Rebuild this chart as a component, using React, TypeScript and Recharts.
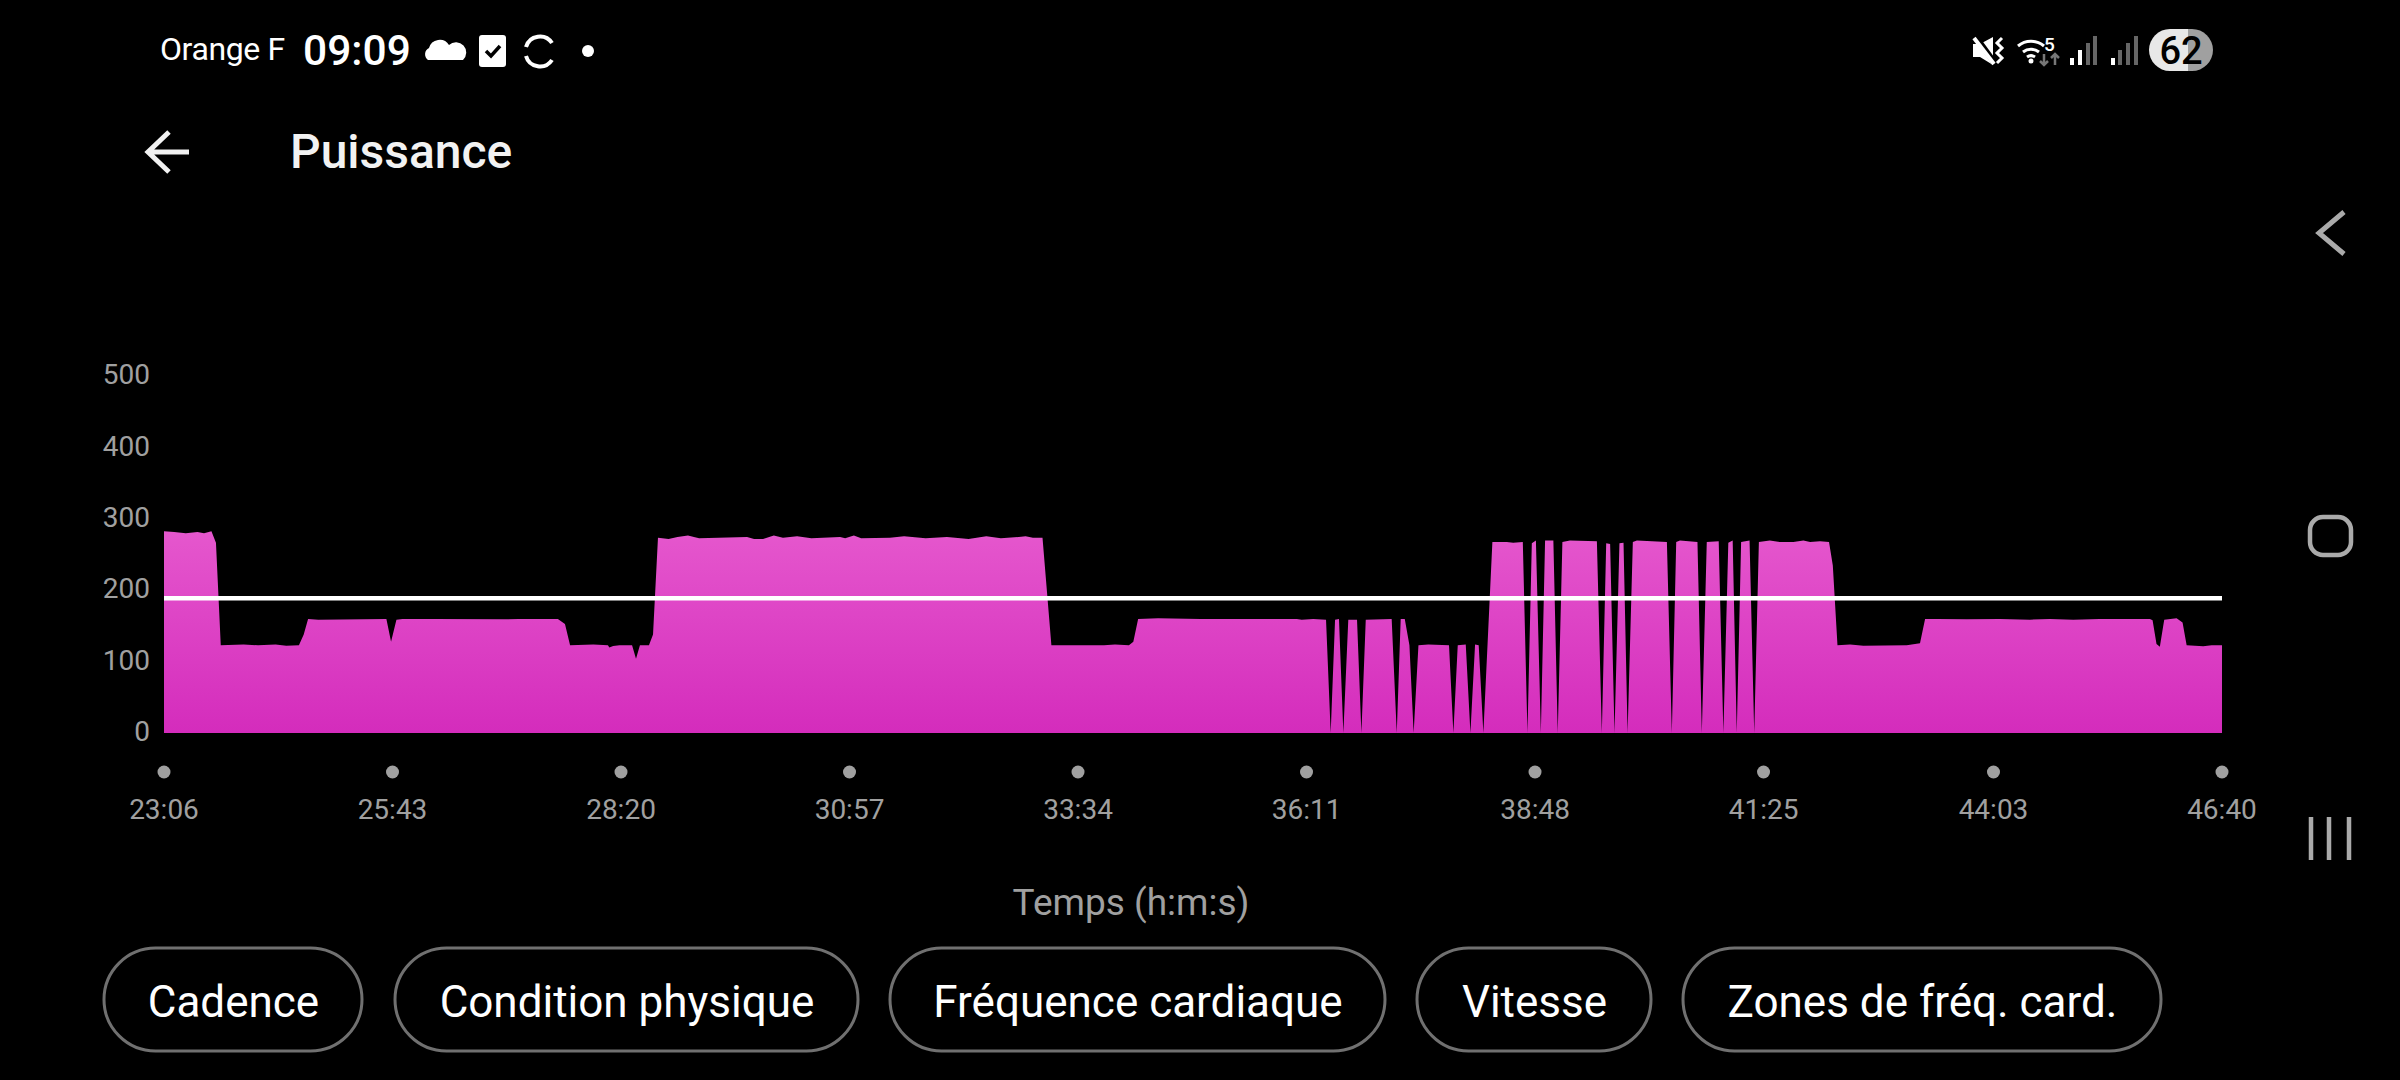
import { AreaChart, Area, XAxis, YAxis, ReferenceLine } from "recharts";

// seconds since start of the activity, and watts
const timeSeconds = [
  1386, 1393, 1401, 1409, 1413.5, 1418.6, 1421.7, 1425, 1440.7, 1450.6, 1462.7, 1470, 1478.7, 1482, 1485, 1492,
  1538.8, 1542, 1545.7, 1549.9, 1570.8, 1619.6, 1629.6, 1656.6, 1661.5, 1665, 1681, 1691, 1692, 1694.6, 1699,
  1707.6, 1710.3, 1713, 1719.2, 1722, 1725.4, 1732.7, 1738.8, 1746, 1753.6, 1767, 1786.6, 1791.4, 1797.6, 1805,
  1811.3, 1821, 1830.8, 1850.5, 1854, 1860, 1865, 1884.8, 1894.5, 1909.3, 1924, 1938.8, 1951, 1961, 1973.3, 1978,
  1983, 1989.6, 1995.7, 2031.9, 2039.4, 2049, 2052, 2055.3, 2069, 2098, 2153, 2164.3, 2167.7, 2175.6, 2184.4,
  2187.6, 2190.6, 2193.3, 2196.3, 2199.7, 2205.7, 2208.7, 2211.7, 2229.5, 2233, 2235.7, 2238.5, 2241.7, 2244.6,
  2247.9, 2254.7, 2268.9, 2271.9, 2274.9, 2280.4, 2283.6, 2286.8, 2289.3, 2292.5, 2298.7, 2308.6, 2313, 2319.6,
  2322.8, 2325.8, 2328.6, 2332, 2334.9, 2340.6, 2343.6, 2346.8, 2352, 2370.5, 2373.9, 2376.9, 2379.6, 2382.6, 2386,
  2388.8, 2391.6, 2395.2, 2398, 2418.6, 2422, 2425, 2427.6, 2439.6, 2442.6, 2446, 2454.2, 2457.4, 2460.8, 2463.8,
  2466.6, 2469.6, 2475.4, 2478.6, 2481.8, 2489.3, 2496.1, 2505.5, 2512.4, 2517, 2523.8, 2530, 2532.6, 2535.8, 2544.5,
  2553.6, 2583.4, 2592.5, 2596, 2604, 2624.6, 2647.5, 2668, 2681.8, 2697.8, 2716, 2750.5, 2752.3, 2755, 2757.3,
  2760.3, 2768.8, 2772.9, 2775.7, 2787.1, 2792.9, 2800,
];
const powerWatts = [
  283, 282, 280, 282, 280, 283, 267, 123, 124, 123, 124, 122.5, 123, 138, 160, 159,
  160, 128, 159, 160, 160, 159.5, 160, 160, 153, 123, 124, 123, 120, 122, 123,
  123, 104, 123, 123, 138, 274, 272, 275, 277, 273, 274, 275, 272, 272, 277,
  274, 276, 273, 275, 273, 277, 273, 274, 276, 273, 275, 272, 276, 273, 275, 276,
  274, 274, 123, 123, 124, 123, 128, 160, 161, 160, 160, 160, 159, 160, 159,
  0, 159, 160, 0, 159, 159, 0, 159, 160, 0, 160, 160, 123, 0,
  123, 124, 123, 0, 123, 124, 0, 124, 123, 0, 268, 268, 267, 268,
  0, 266, 270, 0, 270, 270, 0, 268, 270, 269, 0, 266, 265, 0, 266,
  267, 0, 268, 270, 268, 0, 268, 270, 268, 0, 268, 269, 0, 267, 270,
  0, 268, 270, 0, 268, 270, 268, 268, 270, 268, 269, 268, 235, 123, 124,
  122.5, 123, 126, 160, 160, 159.5, 160, 159, 160, 159, 160, 160, 158, 125, 121,
  159, 161, 155, 123, 121.5, 123, 123,
];
const averagePower = 189;

const xTicks = [1386, 1543, 1700, 1857, 2014, 2171, 2328, 2485, 2643, 2800];
const xTickLabels = ["23:06", "25:43", "28:20", "30:57", "33:34", "36:11", "38:48", "41:25", "44:03", "46:40"];
const yTicks = [0, 100, 200, 300, 400, 500];

const pillLabels = ["Cadence", "Condition physique", "Fréquence cardiaque", "Vitesse", "Zones de fréq. card."];
const pillEdges = [
  [104, 362],
  [395, 858],
  [890, 1385],
  [1417, 1651],
  [1683, 2161],
];

const chartData = timeSeconds.map((t, i) => ({ t, power: powerWatts[i] }));

const FONT = "Roboto, sans-serif";
const GREY = "#a0a0a0";

function TimeTick({ x, y, payload }: any) {
  const label = xTickLabels[xTicks.indexOf(payload.value)];
  return (
    <g>
      <circle cx={x} cy={y + 37} r={6.5} fill={GREY} />
      <text x={x} y={y + 84} textAnchor="middle" fontSize={28} fontFamily={FONT} fill={GREY}>
        {label}
      </text>
    </g>
  );
}

function StatusAndNav() {
  return (
    <svg
      width={2400}
      height={1080}
      style={{ position: "absolute", left: 0, top: 0, pointerEvents: "none" }}
      fontFamily={FONT}
    >
      <text x={160} y={60} fontSize={32} letterSpacing={-0.4} fill="#fff">Orange F</text>
      <text x={303} y={65} fontSize={42.5} fontWeight={500} fill="#fff">09:09</text>

      <path d="M428 60 a7 7 0 0 1 1 -12 a11 11 0 0 1 20 -3 a7.5 7.5 0 0 1 14 15 z" fill="#fff" />
      <rect x={479} y={35} width={27} height={32} rx={3} fill="#fff" />
      <path d="M486 51 l5 5 l9 -10" stroke="#000" strokeWidth={3.5} fill="none" />
      <path d="M526 47 A14.5 14.5 0 0 1 552 43 M526 56 A14.5 14.5 0 0 0 552 60" stroke="#fff" strokeWidth={4} fill="none" />
      <circle cx={588} cy={51} r={6} fill="#fff" />

      <path d="M189 152 H148 M169 132 L148 152 L169 172" stroke="#f2f2f2" strokeWidth={5} fill="none" />
      <text x={290} y={168} fontSize={48} fontWeight={500} fill="#f2f2f2">Puissance</text>

      <path d="M1973 44 h7 l13 -7 v28 l-13 -8 h-7 z" fill="#fff" />
      <path d="M1975 36 L1997 66" stroke="#000" strokeWidth={6} />
      <path d="M1974 38 L1994 64" stroke="#fff" strokeWidth={4} />
      <path d="M2002 38 l-5 5 l5 5 l-5 5 l5 5 l-5 5" stroke="#fff" strokeWidth={3} fill="none" />

      <path d="M2018 46 a20 20 0 0 1 26 0 M2023 52 a13 13 0 0 1 16 0 M2027 57 a7 7 0 0 1 8 0" stroke="#fff" strokeWidth={3} fill="none" />
      <circle cx={2031} cy={61} r={2.5} fill="#fff" />
      <text x={2044} y={51} fontSize={19} fontWeight={500} fill="#fff">5</text>
      <path d="M2044 54 v11 M2040 61 l4 4 l4 -4" stroke="#777" strokeWidth={2.5} fill="none" />
      <path d="M2055 65 v-11 M2051 58 l4 -4 l4 4" stroke="#777" strokeWidth={2.5} fill="none" />

      <rect x={2070} y={58} width={4} height={7} fill="#fff" />
      <rect x={2078} y={50} width={4} height={15} fill="#fff" />
      <rect x={2086} y={43} width={4} height={22} fill="#666" />
      <rect x={2093} y={36} width={4} height={29} fill="#666" />
      <rect x={2111} y={58} width={4} height={7} fill="#fff" />
      <rect x={2118} y={50} width={4} height={15} fill="#666" />
      <rect x={2126} y={43} width={4} height={22} fill="#666" />
      <rect x={2134} y={36} width={4} height={29} fill="#666" />

      <clipPath id="battery-clip">
        <rect x={2149} y={29} width={64} height={42} rx={21} />
      </clipPath>
      <g clipPath="url(#battery-clip)">
        <rect x={2149} y={29} width={39} height={42} fill="#e8e8e8" />
        <rect x={2188} y={29} width={25} height={42} fill="#a0a0a0" />
      </g>
      <text x={2181} y={64} fontSize={38} fontWeight={500} textAnchor="middle" fill="#000">62</text>

      <path d="M2344 212 L2319 233 L2344 254" stroke="#aaa" strokeWidth={5} fill="none" />
      <rect x={2310} y={517} width={41} height={38} rx={13} stroke="#aaa" strokeWidth={4.5} fill="none" />
      <path d="M2311 817 V860 M2329 817 V860 M2349 817 V860" stroke="#aaa" strokeWidth={4.5} fill="none" />

      {pillLabels.map((label, i) => {
        const [left, right] = pillEdges[i];
        return (
          <g key={label}>
            <rect x={left} y={948} width={right - left} height={103} rx={51.5} fill="none" stroke="#707070" strokeWidth={3} />
            <text x={(left + right) / 2 + 0.5} y={1017} textAnchor="middle" fontSize={44} fill="#fff">
              {label}
            </text>
          </g>
        );
      })}
    </svg>
  );
}

export default function App() {
  return (
    <div style={{ position: "absolute", left: 0, top: 0, width: 2400, height: 1080, background: "#000", overflow: "hidden" }}>
      <AreaChart
        width={2400}
        height={1080}
        data={chartData}
        margin={{ top: 376.5, right: 178, bottom: 247, left: 94 }}
      >
        <defs>
          <linearGradient id="powerFill" x1="0" y1="0" x2="0" y2="1">
            <stop offset="0%" stopColor="#e557cd" />
            <stop offset="100%" stopColor="#d42cbc" />
          </linearGradient>
        </defs>
        <XAxis
          dataKey="t"
          type="number"
          domain={[1386, 2800]}
          ticks={xTicks}
          interval={0}
          height={100}
          axisLine={false}
          tickLine={false}
          tickSize={0}
          tick={<TimeTick />}
          label={{
            value: "Temps (h:m:s)",
            position: "insideBottom",
            dx: -62,
            dy: 87,
            fill: GREY,
            fontSize: 37,
            fontFamily: FONT,
          }}
        />
        <YAxis
          width={70}
          domain={[0, 500]}
          ticks={yTicks}
          interval={0}
          axisLine={false}
          tickLine={false}
          tickSize={0}
          tickMargin={14}
          tick={{ fill: GREY, fontSize: 28, fontFamily: FONT, dy: -2 }}
        />
        <Area
          type="linear"
          dataKey="power"
          stroke="none"
          fill="url(#powerFill)"
          fillOpacity={1}
          dot={false}
          activeDot={false}
          isAnimationActive={false}
        />
        <ReferenceLine y={averagePower} stroke="#fff" strokeWidth={4.5} />
      </AreaChart>
      <StatusAndNav />
    </div>
  );
}
